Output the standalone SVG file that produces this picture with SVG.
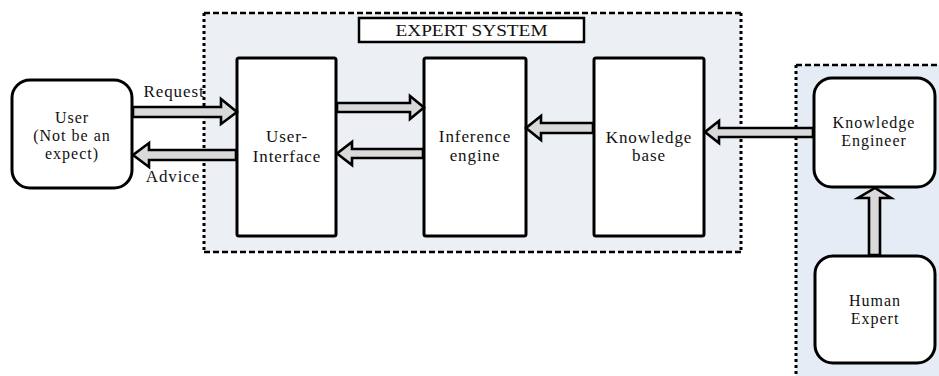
<svg xmlns="http://www.w3.org/2000/svg" width="939" height="376" viewBox="0 0 939 376">
  <style>
    .lbl { font-family: "Liberation Serif", "DejaVu Serif", serif; font-size: 17px; letter-spacing: 0.9px; fill: #111; text-anchor: middle; }
    .tight { font-size: 16px; letter-spacing: 1px; }
    .box { fill: #ffffff; stroke: #000; stroke-width: 3; }
    .arrow { fill: #d9d9d9; stroke: #000; stroke-width: 2.6; stroke-linejoin: miter; }
    .dash-h { stroke: #000; stroke-width: 2.5; stroke-dasharray: 6 3; fill: none; }
    .dash-v { stroke: #000; stroke-width: 3; stroke-dasharray: 3 3; fill: none; }
  </style>

  <!-- background panels -->
  <rect x="0" y="0" width="939" height="376" fill="#ffffff"/>
  <g id="expert-system-panel">
    <rect x="204" y="13" width="537" height="239" fill="#eceff4"/>
    <line class="dash-h" x1="204" y1="13" x2="741" y2="13"/>
    <line class="dash-h" x1="204" y1="252" x2="741" y2="252"/>
    <line class="dash-v" x1="204" y1="13" x2="204" y2="252"/>
    <line class="dash-v" x1="741" y1="13" x2="741" y2="252"/>
  </g>
  <g id="expert-panel">
    <rect x="796" y="65" width="143" height="311" fill="#e6ecf6"/>
    <line class="dash-h" x1="796" y1="65" x2="939" y2="65"/>
    <line class="dash-v" x1="796" y1="65" x2="796" y2="376"/>
  </g>

  <g id="title">
    <rect x="359" y="18" width="225" height="24" fill="#ffffff" stroke="#000" stroke-width="2.5"/>
    <text class="lbl" x="471.5" y="36" font-size="16" style="letter-spacing:0" textLength="152" lengthAdjust="spacingAndGlyphs">EXPERT SYSTEM</text>
  </g>

  <!-- nodes -->
  <g id="user">
    <rect class="box" x="12" y="80" width="120" height="108" rx="18"/>
    <text class="lbl tight" x="72" y="123">User</text>
    <text class="lbl tight" x="72" y="141">(Not be an</text>
    <text class="lbl tight" x="72" y="159">expect)</text>
  </g>
  <g id="user-interface">
    <rect class="box" x="237" y="58" width="99" height="178" rx="2"/>
    <text class="lbl" x="287" y="142">User-</text>
    <text class="lbl" x="287" y="162">Interface</text>
  </g>
  <g id="inference-engine">
    <rect class="box" x="424" y="58" width="102" height="178" rx="2"/>
    <text class="lbl" x="475" y="142">Inference</text>
    <text class="lbl" x="475" y="161">engine</text>
  </g>
  <g id="knowledge-base">
    <rect class="box" x="594" y="58" width="110" height="178" rx="2"/>
    <text class="lbl" x="649" y="143">Knowledge</text>
    <text class="lbl" x="649" y="161">base</text>
  </g>
  <g id="knowledge-engineer">
    <rect class="box" x="814" y="78" width="121" height="109" rx="18"/>
    <text class="lbl tight" x="874" y="128">Knowledge</text>
    <text class="lbl tight" x="874" y="146">Engineer</text>
  </g>
  <g id="human-expert">
    <rect class="box" x="815" y="256" width="120" height="107" rx="18"/>
    <text class="lbl tight" x="875" y="306">Human</text>
    <text class="lbl tight" x="875" y="324">Expert</text>
  </g>

  <!-- connectors: block arrows -->
  <g id="connectors">
    <!-- Request: user -> user interface -->
    <polygon class="arrow" points="133,107 221,107 221,99 237,112 221,124 221,117 133,117"/>
    <!-- Advice: user interface -> user -->
    <polygon class="arrow" points="236,150 149,150 149,143 133,155 149,167 149,160 236,160"/>
    <!-- user interface -> inference engine -->
    <polygon class="arrow" points="337,103 410,103 410,96 424,107.5 410,119 410,112 337,112"/>
    <!-- inference engine -> user interface -->
    <polygon class="arrow" points="423,149 352,149 352,142 337,153.5 352,165 352,158 423,158"/>
    <!-- knowledge base -> inference engine -->
    <polygon class="arrow" points="593,123 541,123 541,116 526,128 541,140 541,133 593,133"/>
    <!-- knowledge engineer -> knowledge base -->
    <polygon class="arrow" points="813,128 719,128 719,121 705,132 719,143 719,137 813,137"/>
    <!-- human expert -> knowledge engineer -->
    <polygon class="arrow" points="869,255 869,198 858,198 875,188 891,198 880,198 880,255"/>
  </g>

  <text class="lbl" x="174" y="97">Request</text>
  <text class="lbl" x="173" y="182">Advice</text>
</svg>
